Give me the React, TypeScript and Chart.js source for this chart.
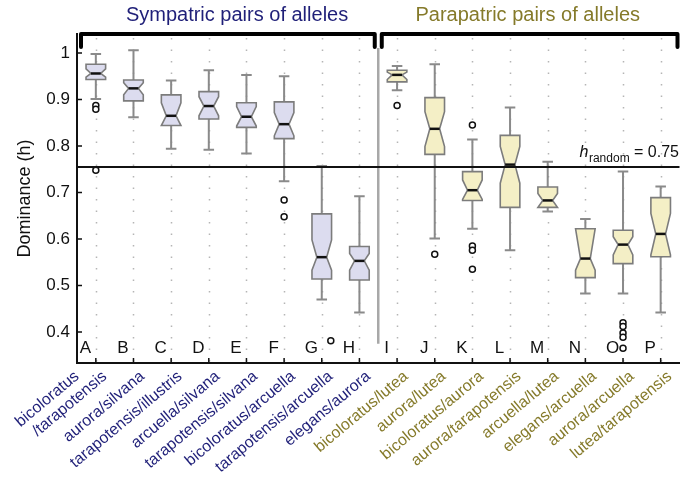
import { useEffect, useRef } from 'react';
import { Chart, registerables } from 'chart.js';

Chart.register(...registerables);

const FONT = '"Liberation Sans", Arial, Helvetica, sans-serif';

const letters = ['A', 'B', 'C', 'D', 'E', 'F', 'G', 'H', 'I', 'J', 'K', 'L', 'M', 'N', 'O', 'P'];
const pairLabels: (string | string[])[] = [
  ['bicoloratus', '/tarapotensis'],
  'aurora/silvana',
  'tarapotensis/illustris',
  'arcuella/silvana',
  'tarapotensis/silvana',
  'bicoloratus/arcuella',
  'tarapotensis/arcuella',
  'elegans/aurora',
  'bicoloratus/lutea',
  'aurora/lutea',
  'bicoloratus/aurora',
  'aurora/tarapotensis',
  'arcuella/lutea',
  'elegans/arcuella',
  'aurora/arcuella',
  'lutea/tarapotensis',
];
const groupTitles = ['Sympatric pairs of alleles', 'Parapatric pairs of alleles'];
const groupOf = [0, 0, 0, 0, 0, 0, 0, 0, 1, 1, 1, 1, 1, 1, 1, 1];

const whiskerHigh = [0.998, 1.006, 0.941, 0.963, 0.953, 0.950, 0.757, 0.692, 0.972, 0.976, 0.814, 0.883, 0.766, 0.643, 0.745, 0.713];
const q3 = [0.976, 0.942, 0.910, 0.917, 0.893, 0.895, 0.654, 0.584, 0.963, 0.904, 0.745, 0.823, 0.712, 0.622, 0.619, 0.689];
const notchHigh = [0.966, 0.936, 0.893, 0.906, 0.885, 0.872, 0.598, 0.569, 0.959, 0.874, 0.727, 0.799, 0.698, 0.622, 0.605, 0.655];
const medians = [0.956, 0.924, 0.865, 0.886, 0.863, 0.847, 0.561, 0.553, 0.953, 0.837, 0.705, 0.760, 0.683, 0.558, 0.588, 0.611];
const notchLow = [0.948, 0.910, 0.844, 0.865, 0.843, 0.822, 0.533, 0.533, 0.943, 0.799, 0.685, 0.720, 0.668, 0.533, 0.566, 0.566];
const q1 = [0.943, 0.897, 0.844, 0.858, 0.840, 0.816, 0.514, 0.512, 0.938, 0.782, 0.683, 0.668, 0.668, 0.517, 0.547, 0.562];
const whiskerLow = [0.901, 0.862, 0.794, 0.792, 0.784, 0.724, 0.470, 0.442, 0.920, 0.601, 0.622, 0.576, 0.659, 0.483, 0.483, 0.442];
const outliers: number[][] = [
  [0.887, 0.879, 0.748], [], [], [], [], [0.684, 0.648], [0.381], [],
  [0.887], [0.567], [0.845, 0.585, 0.576, 0.535], [], [], [], [0.42, 0.412, 0.398, 0.389, 0.365], [],
];
const outlierNudge = [0, 0, 0, 0, 0, 0, 0.24, 0, 0, 0, 0, 0, 0, 0, 0, 0];

const hRandom = 0.755;
const hRandomText = '= 0.75';
const yTicks = [0.4, 0.5, 0.6, 0.7, 0.8, 0.9, 1.0];
const yMin = 0.3334;
const yMax = 1.0409;

const NAVY = '#1f1f78';
const OLIVE = '#857a2a';
const groupText = [NAVY, OLIVE];
const groupFill = ['#dcdcef', '#f4efc6'];

const LABEL_ANGLE = (40 * Math.PI) / 180;

const boxPlugin = {
  id: 'boxPlugin',
  beforeDatasetsDraw(chart: any) {
    const { ctx, chartArea, scales } = chart;
    const x = scales.x;
    const y = scales.y;
    const step = x.getPixelForValue(1) - x.getPixelForValue(0);
    ctx.save();
    // dotted vertical grid
    ctx.strokeStyle = '#b5b5b5';
    ctx.lineWidth = 1.5;
    ctx.setLineDash([1.5, 10]);
    for (let i = 0; i < letters.length; i++) {
      const X = Math.round(x.getPixelForValue(i)) + 0.5;
      ctx.beginPath();
      ctx.moveTo(X, chartArea.top + 4);
      ctx.lineTo(X, chartArea.bottom);
      ctx.stroke();
    }
    ctx.setLineDash([]);
    // separator between groups
    const sx = x.getPixelForValue(7.5);
    ctx.strokeStyle = '#a8a8a8';
    ctx.lineWidth = 2.5;
    ctx.beginPath();
    ctx.moveTo(sx, chartArea.top + 14);
    ctx.lineTo(sx, y.getPixelForValue(0.375));
    ctx.stroke();

    const hw = step * 0.26;
    const nw = step * 0.13;
    const cw = step * 0.14;
    for (let i = 0; i < letters.length; i++) {
      const cx = x.getPixelForValue(i);
      // whiskers
      ctx.strokeStyle = '#8a8a8a';
      ctx.lineWidth = 2;
      ctx.beginPath();
      ctx.moveTo(cx, y.getPixelForValue(whiskerHigh[i]));
      ctx.lineTo(cx, y.getPixelForValue(q3[i]));
      ctx.moveTo(cx, y.getPixelForValue(q1[i]));
      ctx.lineTo(cx, y.getPixelForValue(whiskerLow[i]));
      ctx.moveTo(cx - cw, y.getPixelForValue(whiskerHigh[i]));
      ctx.lineTo(cx + cw, y.getPixelForValue(whiskerHigh[i]));
      ctx.moveTo(cx - cw, y.getPixelForValue(whiskerLow[i]));
      ctx.lineTo(cx + cw, y.getPixelForValue(whiskerLow[i]));
      ctx.stroke();
      // notched box
      const yq3 = y.getPixelForValue(q3[i]);
      const ynh = y.getPixelForValue(notchHigh[i]);
      const ym = y.getPixelForValue(medians[i]);
      const ynl = y.getPixelForValue(notchLow[i]);
      const yq1 = y.getPixelForValue(q1[i]);
      ctx.beginPath();
      ctx.moveTo(cx - hw, yq3);
      ctx.lineTo(cx + hw, yq3);
      ctx.lineTo(cx + hw, ynh);
      ctx.lineTo(cx + nw, ym);
      ctx.lineTo(cx + hw, ynl);
      ctx.lineTo(cx + hw, yq1);
      ctx.lineTo(cx - hw, yq1);
      ctx.lineTo(cx - hw, ynl);
      ctx.lineTo(cx - nw, ym);
      ctx.lineTo(cx - hw, ynh);
      ctx.closePath();
      ctx.fillStyle = groupFill[groupOf[i]];
      ctx.fill();
      ctx.strokeStyle = '#7c7c7c';
      ctx.lineWidth = 1.6;
      ctx.lineJoin = 'miter';
      ctx.stroke();
      // median
      ctx.strokeStyle = '#111';
      ctx.lineWidth = 2.5;
      ctx.beginPath();
      ctx.moveTo(cx - nw, ym);
      ctx.lineTo(cx + nw, ym);
      ctx.stroke();
    }
    // h random line
    const hy = y.getPixelForValue(hRandom);
    ctx.strokeStyle = '#111';
    ctx.lineWidth = 2;
    ctx.beginPath();
    ctx.moveTo(chartArea.left, hy);
    ctx.lineTo(chartArea.right, hy);
    ctx.stroke();
    ctx.restore();
  },
  afterDraw(chart: any) {
    const { ctx, chartArea, scales } = chart;
    const x = scales.x;
    const y = scales.y;
    ctx.save();
    // inner ticks
    ctx.strokeStyle = '#111';
    ctx.lineWidth = 1.5;
    ctx.beginPath();
    for (const v of yTicks) {
      const Y = y.getPixelForValue(v);
      ctx.moveTo(chartArea.left, Y);
      ctx.lineTo(chartArea.left + 5, Y);
    }
    for (let i = 0; i < letters.length; i++) {
      const X = x.getPixelForValue(i);
      ctx.moveTo(X, chartArea.bottom);
      ctx.lineTo(X, chartArea.bottom - 5);
    }
    ctx.stroke();

    // rotated category labels
    ctx.font = `16px ${FONT}`;
    ctx.textBaseline = 'middle';
    for (let i = 0; i < pairLabels.length; i++) {
      const lines = Array.isArray(pairLabels[i]) ? (pairLabels[i] as string[]) : [pairLabels[i] as string];
      const ax = x.getPixelForValue(i) + 9;
      const ay = chartArea.bottom + 11.5;
      ctx.save();
      ctx.translate(ax, ay);
      ctx.rotate(-LABEL_ANGLE);
      ctx.fillStyle = groupText[groupOf[i]];
      const last = lines[lines.length - 1];
      const wLast = ctx.measureText(last).width;
      ctx.textAlign = 'right';
      ctx.fillText(last, 0, 0);
      ctx.textAlign = 'left';
      for (let k = lines.length - 2; k >= 0; k--) {
        const up = lines.length - 1 - k;
        ctx.fillText(lines[k], -wLast - 7 * up, -18 * up);
      }
      ctx.restore();
    }

    // letters
    ctx.fillStyle = '#111';
    ctx.font = `17px ${FONT}`;
    ctx.textAlign = 'center';
    ctx.textBaseline = 'alphabetic';
    for (let i = 0; i < letters.length; i++) {
      ctx.fillText(letters[i], x.getPixelForValue(i) - 10.5, chartArea.bottom - 10);
    }

    // brackets
    const sx = x.getPixelForValue(7.5);
    const top = chartArea.top;
    ctx.strokeStyle = '#000';
    ctx.lineWidth = 4;
    ctx.lineJoin = 'round';
    ctx.lineCap = 'round';
    const spans = [
      [chartArea.left + 4, sx - 3.5],
      [sx + 3.5, chartArea.right - 2],
    ];
    for (const [a, b] of spans) {
      ctx.beginPath();
      ctx.moveTo(a, top + 13);
      ctx.lineTo(a, top);
      ctx.lineTo(b, top);
      ctx.lineTo(b, top + 13);
      ctx.stroke();
    }

    // group titles
    ctx.font = `20px ${FONT}`;
    ctx.textAlign = 'center';
    const titleX = [3.75, 11.47];
    for (let g = 0; g < 2; g++) {
      ctx.fillStyle = groupText[g];
      ctx.fillText(groupTitles[g], x.getPixelForValue(titleX[g]), 21);
    }

    // h_random label
    const hy = y.getPixelForValue(hRandom);
    ctx.fillStyle = '#111';
    ctx.textAlign = 'left';
    ctx.font = `16px ${FONT}`;
    const rest = ' ' + hRandomText;
    const restW = ctx.measureText(rest).width;
    ctx.font = `12px ${FONT}`;
    const subW = ctx.measureText('random').width;
    ctx.font = `italic 16px ${FONT}`;
    const hW = ctx.measureText('h').width;
    let px = chartArea.right - 1 - restW - subW - hW;
    ctx.fillText('h', px, hy - 9.5);
    px += hW + 0.5;
    ctx.font = `12px ${FONT}`;
    ctx.fillText('random', px, hy - 5);
    px += subW;
    ctx.font = `16px ${FONT}`;
    ctx.fillText(rest, px, hy - 9.5);
    ctx.restore();
  },
};

export default function App() {
  const ref = useRef<HTMLCanvasElement | null>(null);
  useEffect(() => {
    if (!ref.current) return;
    const outlierPoints: { x: number; y: number }[] = [];
    outliers.forEach((arr, i) => arr.forEach((v) => outlierPoints.push({ x: i + outlierNudge[i], y: v })));
    const chart = new Chart(ref.current, {
      type: 'scatter',
      data: {
        datasets: [
          {
            label: 'outliers',
            data: outlierPoints,
            pointStyle: 'circle',
            pointRadius: 3,
            pointBorderWidth: 1.5,
            borderColor: '#111',
            backgroundColor: '#fff',
          },
        ],
      },
      options: {
        responsive: false,
        animation: false,
        events: [],
        layout: { padding: { top: 34, right: 1, left: 0, bottom: 0 } },
        plugins: { legend: { display: false }, tooltip: { enabled: false }, title: { display: false } },
        scales: {
          x: {
            type: 'linear',
            min: -0.5,
            max: letters.length - 0.5,
            afterBuildTicks: (s: any) => {
              s.ticks = letters.map((_, i) => ({ value: i }));
            },
            afterFit: (s: any) => {
              s.height = 120;
            },
            grid: { display: false, drawTicks: false },
            border: { display: true, color: '#111', width: 2 },
            ticks: { display: false },
          },
          y: {
            type: 'linear',
            min: yMin,
            max: yMax,
            afterBuildTicks: (s: any) => {
              s.ticks = yTicks.map((v) => ({ value: v }));
            },
            afterFit: (s: any) => {
              s.width = 77;
            },
            grid: { display: false, drawTicks: false },
            border: { display: true, color: '#111', width: 2 },
            ticks: {
              padding: 7,
              color: '#111',
              font: { family: FONT, size: 17 },
              callback: (v: any) => (v === 1 ? '1' : Number(v).toFixed(1)),
            },
            title: {
              display: true,
              text: 'Dominance (h)',
              color: '#111',
              font: { family: FONT, size: 18 },
              padding: { top: 14, bottom: 0 },
            },
          },
        },
      },
      plugins: [boxPlugin],
    });
    return () => chart.destroy();
  }, []);
  return (
    <div style={{ position: 'absolute', left: 0, top: 0, width: 685, height: 483, background: '#fff' }}>
      <canvas ref={ref} width={685} height={483} />
    </div>
  );
}
